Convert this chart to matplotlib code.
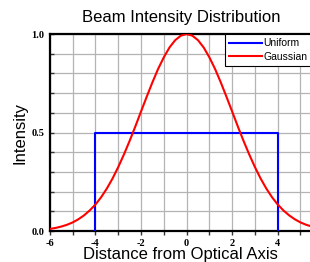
import matplotlib
matplotlib.use("Agg")
import matplotlib.pyplot as plt
from matplotlib.ticker import MultipleLocator

# Data
gauss_x = [-6.0, -5.75, -5.5, -5.25, -5.0, -4.75, -4.5, -4.25, -4.0, -3.75, -3.5, -3.25,
           -3.0, -2.75, -2.5, -2.25, -2.0, -1.75, -1.5, -1.25, -1.0, -0.75, -0.5, -0.25,
           0.0, 0.25, 0.5, 0.75, 1.0, 1.25, 1.5, 1.75, 2.0, 2.25, 2.5, 2.75, 3.0, 3.25,
           3.5, 3.75, 4.0, 4.25, 4.5, 4.75, 5.0, 5.25, 5.5]
gauss_y = [0.011, 0.016, 0.023, 0.032, 0.044, 0.060, 0.080, 0.105, 0.135, 0.172, 0.216, 0.267,
           0.325, 0.389, 0.458, 0.531, 0.607, 0.682, 0.755, 0.823, 0.882, 0.932, 0.969, 0.992,
           1.000, 0.992, 0.969, 0.932, 0.882, 0.823, 0.755, 0.682, 0.607, 0.531, 0.458, 0.389,
           0.325, 0.267, 0.216, 0.172, 0.135, 0.105, 0.080, 0.060, 0.044, 0.032, 0.023]
uniform_x = [-4.0, -4.0, 4.0, 4.0]
uniform_y = [0.0, 0.5, 0.5, 0.0]
x_ticks = [-6, -4, -2, 0, 2, 4]
y_ticks = [0.0, 0.5, 1.0]

plt.rcParams['font.family'] = ['Liberation Sans', 'DejaVu Sans']

fig = plt.figure(figsize=(3.1, 2.62), dpi=100)
ax = fig.add_axes([0.161, 0.118, 0.845, 0.752])

ax.plot(uniform_x, uniform_y, color='#0000ff', lw=1.5, label='Uniform', zorder=3)
ax.plot(gauss_x, gauss_y, color='#ff0000', lw=1.5, label='Gaussian', zorder=3)

ax.set_xlim(-6, 5.5)
ax.set_ylim(0, 1.0)
ax.set_xticks(x_ticks)
ax.set_yticks(y_ticks)
ax.set_xticklabels([str(t) for t in x_ticks])
ax.set_yticklabels([f"{t:.1f}" for t in y_ticks])
ax.xaxis.set_minor_locator(MultipleLocator(1))
ax.yaxis.set_minor_locator(MultipleLocator(0.1))
ax.grid(True, which='both', color='#b4b4b4', lw=0.9)
ax.set_axisbelow(True)

for lab in ax.get_xticklabels() + ax.get_yticklabels():
    lab.set_fontsize(7.5)
    lab.set_fontweight('bold')
    lab.set_family(['Liberation Serif', 'DejaVu Serif'])
ax.tick_params(axis='x', which='both', direction='out', length=3, width=1, color='#333333', pad=3)
ax.tick_params(axis='y', which='both', direction='in', length=3, width=1, color='#333333', pad=4)

for s in ['left', 'bottom', 'top']:
    ax.spines[s].set_linewidth(1.6)
    ax.spines[s].set_color('black')
ax.spines['right'].set_visible(False)

ax.set_title('Beam Intensity Distribution', fontsize=12, pad=9)
ax.set_xlabel('Distance from Optical Axis', fontsize=12, labelpad=-1)
ax.set_ylabel('Intensity', fontsize=12, labelpad=3)

leg = ax.legend(loc='upper right', fontsize=7.5, frameon=True, fancybox=False,
                edgecolor='black', framealpha=1, borderpad=0.4, handlelength=3.2,
                handletextpad=0.15, labelspacing=0.35, borderaxespad=0.0)
leg.get_frame().set_linewidth(0.8)

fig.savefig('out.png', dpi=100)
